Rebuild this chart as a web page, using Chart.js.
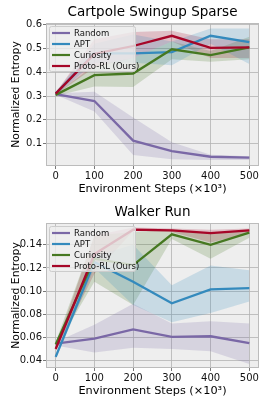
<!DOCTYPE html>
<html>
<head>
<meta charset="utf-8">
<script src="https://cdn.jsdelivr.net/npm/chart.js@4.4.1/dist/chart.umd.min.js"></script>
<style>
  body { margin: 0; background: #fff; }
  .panel { position: relative; width: 266px; height: 200px; }
  .panel + .panel { height: 202px; }
</style>
</head>
<body>
<div class="panel"><canvas id="cartpole"></canvas></div>
<div class="panel"><canvas id="walker"></canvas></div>
<script>
// x axis: environment steps (x10^3)
const steps = [0, 100, 200, 300, 400, 500];
const stepTicks = [0, 100, 200, 300, 400, 500];
const methods = ['Random', 'APT', 'Curiosity', 'Proto-RL (Ours)'];
const colors = ['#7A68A6', '#348ABD', '#467821', '#A60628'];

// Cartpole Swingup Sparse
const cartTicks = [0.1, 0.2, 0.3, 0.4, 0.5, 0.6];
const cartRandom   = [0.308, 0.279, 0.112, 0.068, 0.044, 0.040];
const cartRandomLo = [0.305, 0.235, 0.051, 0.033, 0.030, 0.030];
const cartRandomHi = [0.312, 0.318, 0.210, 0.105, 0.052, 0.046];
const cartApt      = [0.310, 0.480, 0.480, 0.485, 0.554, 0.527];
const cartAptLo    = [0.305, 0.440, 0.440, 0.430, 0.520, 0.435];
const cartAptHi    = [0.315, 0.520, 0.560, 0.530, 0.585, 0.585];
const cartCur      = [0.305, 0.388, 0.395, 0.497, 0.473, 0.505];
const cartCurLo    = [0.300, 0.340, 0.338, 0.455, 0.445, 0.455];
const cartCurHi    = [0.310, 0.430, 0.460, 0.530, 0.490, 0.550];
const cartProto    = [0.310, 0.478, 0.511, 0.554, 0.503, 0.505];
const cartProtoLo  = [0.305, 0.420, 0.460, 0.530, 0.460, 0.460];
const cartProtoHi  = [0.315, 0.540, 0.570, 0.575, 0.540, 0.540];

// Walker Run
const walkTicks = [0.04, 0.06, 0.08, 0.10, 0.12, 0.14];
const walkRandom   = [0.0547, 0.059, 0.067, 0.0605, 0.061, 0.055];
const walkRandomLo = [0.053, 0.047, 0.051, 0.050, 0.048, 0.037];
const walkRandomHi = [0.056, 0.071, 0.089, 0.072, 0.074, 0.072];
const walkApt      = [0.0432, 0.125, 0.108, 0.0895, 0.1015, 0.1025];
const walkAptLo    = [0.041, 0.120, 0.088, 0.073, 0.081, 0.091];
const walkAptHi    = [0.046, 0.130, 0.140, 0.105, 0.122, 0.118];
const walkCur      = [0.054, 0.128, 0.1225, 0.149, 0.140, 0.1505];
const walkCurLo    = [0.051, 0.108, 0.088, 0.145, 0.128, 0.146];
const walkCurHi    = [0.056, 0.148, 0.151, 0.153, 0.150, 0.153];
const walkProto    = [0.050, 0.132, 0.153, 0.1525, 0.150, 0.1525];
const walkProtoLo  = [0.048, 0.115, 0.152, 0.151, 0.142, 0.150];
const walkProtoHi  = [0.052, 0.148, 0.155, 0.154, 0.153, 0.154];

const FONT = 'DejaVu Sans';

function hexAlpha(hex, a) {
    const n = parseInt(hex.slice(1), 16);
    return `rgba(${n >> 16},${(n >> 8) & 255},${n & 255},${a})`;
}

function pts(ys) {
    return ys.map((y, i) => ({ x: steps[i], y: y }));
}

// plot background, frame, title and the legend box drawn inside the axes
const bmhPlugin = {
    id: 'bmh',
    beforeDraw(chart) {
        const a = chart.chartArea, ctx = chart.ctx;
        ctx.save();
        ctx.fillStyle = '#eeeeee';
        ctx.fillRect(a.left, a.top, a.right - a.left, a.bottom - a.top);
        ctx.restore();
    },
    afterDraw(chart) {
        const a = chart.chartArea, ctx = chart.ctx;
        ctx.save();
        ctx.strokeStyle = '#bcbcbc';
        ctx.lineWidth = 1;
        ctx.strokeRect(a.left + 0.5, a.top + 0.5, a.right - a.left - 1, a.bottom - a.top - 1);

        // title
        ctx.fillStyle = '#000';
        ctx.font = `13.5px "${FONT}"`;
        ctx.textAlign = 'center';
        ctx.textBaseline = 'middle';
        ctx.fillText(chart.options.plotTitle, (a.left + a.right) / 2, 12.5);

        // legend
        const bx = a.left + 3, by = a.top + 3, bw = 86, bh = 45;
        ctx.beginPath();
        ctx.roundRect(bx + 0.5, by + 0.5, bw, bh, 2);
        ctx.fillStyle = 'rgba(238,238,238,0.8)';
        ctx.fill();
        ctx.strokeStyle = '#cccccc';
        ctx.stroke();
        ctx.font = `8.5px "${FONT}"`;
        ctx.textAlign = 'left';
        methods.forEach((m, i) => {
            const y = by + 7 + i * 11;
            ctx.beginPath();
            ctx.moveTo(bx + 3, y);
            ctx.lineTo(bx + 21, y);
            ctx.strokeStyle = colors[i];
            ctx.lineWidth = 2.2;
            ctx.stroke();
            ctx.fillStyle = '#111';
            ctx.fillText(m, bx + 25, y + 0.5);
        });
        ctx.restore();
    }
};

function makeChart(id, title, series, yMin, yMax, yTicks, digits) {
    const datasets = [];
    // bands first in the array, but drawn underneath via order
    series.forEach((s, i) => {
        datasets.push({ label: '', data: pts(s.hi), borderWidth: 0, pointRadius: 0, fill: false, order: 20 + i });
        datasets.push({ label: '', data: pts(s.lo), borderWidth: 0, pointRadius: 0,
            fill: '-1', backgroundColor: hexAlpha(colors[i], 0.2), order: 20 + i });
    });
    series.forEach((s, i) => {
        datasets.push({ label: methods[i], data: pts(s.mean), borderColor: colors[i],
            borderWidth: 2.3, pointRadius: 0, fill: false, tension: 0, order: 4 - i });
    });

    new Chart(document.getElementById(id), {
        type: 'line',
        data: { datasets: datasets },
        options: {
            plotTitle: title,
            responsive: true,
            maintainAspectRatio: false,
            animation: false,
            layout: { padding: { left: 0, right: 7, top: 23, bottom: 0 } },
            plugins: { legend: { display: false }, tooltip: { enabled: false } },
            scales: {
                x: {
                    type: 'linear', min: -25, max: 525,
                    afterBuildTicks: sc => { sc.ticks = stepTicks.map(v => ({ value: v })); },
                    afterFit: sc => { sc.height = 34; },
                    ticks: { font: { family: FONT, size: 10 }, color: '#111', padding: 1, maxRotation: 0 },
                    grid: { color: '#b2b2b2', borderDash: [2, 2], lineWidth: 0.8, tickLength: 3,
                            tickColor: '#555', tickBorderDash: [] },
                    border: { display: false },
                    title: { display: true, text: 'Environment Steps (×10³)', color: '#000',
                             font: { family: FONT, size: 11.3 }, padding: { top: 0, bottom: 4 } }
                },
                y: {
                    min: yMin, max: yMax,
                    afterBuildTicks: sc => { sc.ticks = yTicks.map(v => ({ value: v })); },
                    afterFit: sc => { sc.width = 46; },
                    ticks: { font: { family: FONT, size: 10 }, color: '#111', padding: 1,
                             callback: v => v.toFixed(digits) },
                    grid: { color: '#b2b2b2', borderDash: [2, 2], lineWidth: 0.8, tickLength: 3,
                            tickColor: '#555', tickBorderDash: [] },
                    border: { display: false },
                    title: { display: true, text: 'Normalized Entropy', color: '#000',
                             font: { family: FONT, size: 10.8 }, padding: { top: 10, bottom: 0 } }
                }
            }
        },
        plugins: [bmhPlugin]
    });
}

makeChart('cartpole', 'Cartpole Swingup Sparse', [
    { mean: cartRandom, lo: cartRandomLo, hi: cartRandomHi },
    { mean: cartApt, lo: cartAptLo, hi: cartAptHi },
    { mean: cartCur, lo: cartCurLo, hi: cartCurHi },
    { mean: cartProto, lo: cartProtoLo, hi: cartProtoHi }
], 0.005, 0.608, cartTicks, 1);

makeChart('walker', 'Walker Run', [
    { mean: walkRandom, lo: walkRandomLo, hi: walkRandomHi },
    { mean: walkApt, lo: walkAptLo, hi: walkAptHi },
    { mean: walkCur, lo: walkCurLo, hi: walkCurHi },
    { mean: walkProto, lo: walkProtoLo, hi: walkProtoHi }
], 0.0336, 0.1588, walkTicks, 2);
</script>
</body>
</html>
